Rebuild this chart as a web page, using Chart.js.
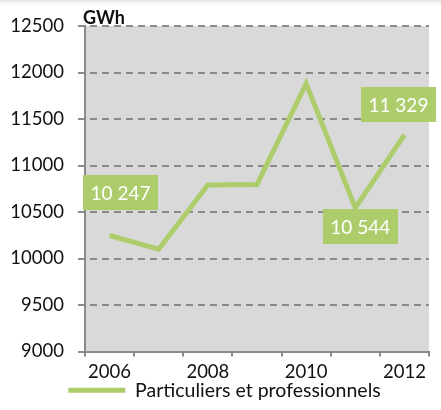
<!DOCTYPE html>
<html>
<head>
<meta charset="utf-8">
<script src="https://cdn.jsdelivr.net/npm/chart.js@4.4.1/dist/chart.umd.min.js"></script>
<style>
  html, body { margin: 0; padding: 0; }
  body { width: 441px; height: 410px; background: linear-gradient(#e4e4e4 0px, #f6f6f6 3px, #ffffff 7px); }
  canvas { display: block; }
</style>
</head>
<body>
<canvas id="graphique" width="441" height="410"></canvas>
<script>
// données
const annees = ['2006', '2007', '2008', '2009', '2010', '2011', '2012'];
const consommation = [10247, 10100, 10790, 10795, 11880, 10544, 11329];
const anneesAffichees = ['2006', '2008', '2010', '2012'];
// étiquettes de données affichées (index des années)
const etiquettes = [0, 5, 6];

const vert = '#adcd6d';
const gris = '#8a8a8a';

function formatFr(v) {
    return String(v).replace(/\B(?=(\d{3})+(?!\d))/g, ' ');
}

const fondZone = {
    id: 'fondZone',
    beforeDraw(chart) {
        const { ctx, chartArea: a } = chart;
        ctx.save();
        ctx.fillStyle = '#d9d9d9';
        ctx.fillRect(a.left, a.top, a.right - a.left, a.bottom - a.top);
        ctx.restore();
    }
};

// quadrillage en pointillés, tracé depuis l'échelle y
const quadrillage = {
    id: 'quadrillage',
    beforeDatasetsDraw(chart) {
        const { ctx, chartArea: a, scales } = chart;
        const y = scales.y;
        ctx.save();
        ctx.strokeStyle = gris;
        ctx.lineWidth = 2;
        y.ticks.forEach(t => {
            const py = Math.round(y.getPixelForValue(t.value));
            ctx.beginPath();
            if (t.value === y.min) {
                ctx.setLineDash([]);
                ctx.moveTo(a.left - 7, py);
                ctx.lineTo(a.left, py);
            } else {
                ctx.setLineDash([7, 5]);
                ctx.moveTo(a.left - 7, py);
                ctx.lineTo(a.right, py);
            }
            ctx.stroke();
        });
        ctx.restore();
    }
};

const uniteGWh = {
    id: 'uniteGWh',
    afterDraw(chart) {
        const { ctx, chartArea: a } = chart;
        ctx.save();
        ctx.font = 'bold 18px Lato';
        ctx.fillStyle = '#111';
        ctx.textBaseline = 'bottom';
        ctx.fillText('GWh', a.left - 2, a.top + 1);
        ctx.restore();
    }
};

// légende légèrement décalée vers la droite comme dans l'original
const decaleLegende = {
    id: 'decaleLegende',
    afterLayout(chart) {
        chart.legend.left += 10;
        chart.legend.right += 10;
    }
};

// décalages des boîtes par rapport au point
const decalages = { 0: [11, -43], 5: [5, 19], 6: [-6, -30] };

const etiquettesDonnees = {
    id: 'etiquettesDonnees',
    afterDatasetsDraw(chart) {
        const { ctx } = chart;
        const meta = chart.getDatasetMeta(0);
        ctx.save();
        ctx.font = '19px Lato';
        ctx.textAlign = 'center';
        ctx.textBaseline = 'middle';
        etiquettes.forEach(i => {
            const p = meta.data[i];
            const [dx, dy] = decalages[i];
            const cx = p.x + dx, cy = p.y + dy;
            const w = 75, h = 35;
            ctx.fillStyle = vert;
            ctx.fillRect(Math.round(cx - w / 2), Math.round(cy - h / 2), w, h);
            ctx.fillStyle = '#ffffff';
            ctx.fillText(formatFr(consommation[i]), cx, cy + 1);
        });
        ctx.restore();
    }
};

const ctx = document.getElementById('graphique').getContext('2d');
const graphique = new Chart(ctx, {
    type: 'line',
    data: {
        labels: annees,
        datasets: [{
            label: 'Particuliers et professionnels',
            data: consommation,
            borderColor: vert,
            backgroundColor: vert,
            borderWidth: 5,
            pointRadius: 0,
            tension: 0
        }]
    },
    options: {
        responsive: false,
        animation: false,
        layout: { padding: { top: 26, right: 12, left: 0, bottom: 0 } },
        plugins: {
            tooltip: { enabled: false },
            legend: {
                position: 'bottom',
                labels: {
                    boxWidth: 57,
                    boxHeight: 5,
                    padding: 1,
                    color: '#111',
                    font: { family: 'Lato', size: 19.5 },
                    generateLabels(chart) {
                        const items = Chart.defaults.plugins.legend.labels.generateLabels(chart);
                        items.forEach(it => { it.lineWidth = 0; });
                        return items;
                    }
                }
            }
        },
        scales: {
            x: {
                offset: true,
                grid: {
                    offset: true,
                    drawOnChartArea: false,
                    tickLength: 5,
                    color: gris,
                    lineWidth: 2
                },
                border: { color: gris, width: 2 },
                ticks: {
                    autoSkip: false,
                    maxRotation: 0,
                    padding: 4,
                    color: '#111',
                    font: { family: 'Lato', size: 18.5 },
                    callback(v, i) {
                        const l = annees[i];
                        return anneesAffichees.includes(l) ? l : '';
                    }
                },
                afterFit(s) { s.height = 28; }
            },
            y: {
                min: 9000,
                max: 12500,
                grid: {
                    display: true,
                    drawOnChartArea: false,
                    drawTicks: false,
                    tickLength: 7
                },
                border: { color: gris, width: 2 },
                ticks: {
                    stepSize: 500,
                    padding: 21,
                    color: '#111',
                    font: { family: 'Lato', size: 18.5 },
                    callback(v) { return String(v); }
                },
                afterFit(s) {
                    s.width = 85;
                    s.paddingTop = 0;
                    s.paddingBottom = 0;
                }
            }
        }
    },
    plugins: [fondZone, quadrillage, etiquettesDonnees, uniteGWh, decaleLegende]
});
</script>
</body>
</html>
